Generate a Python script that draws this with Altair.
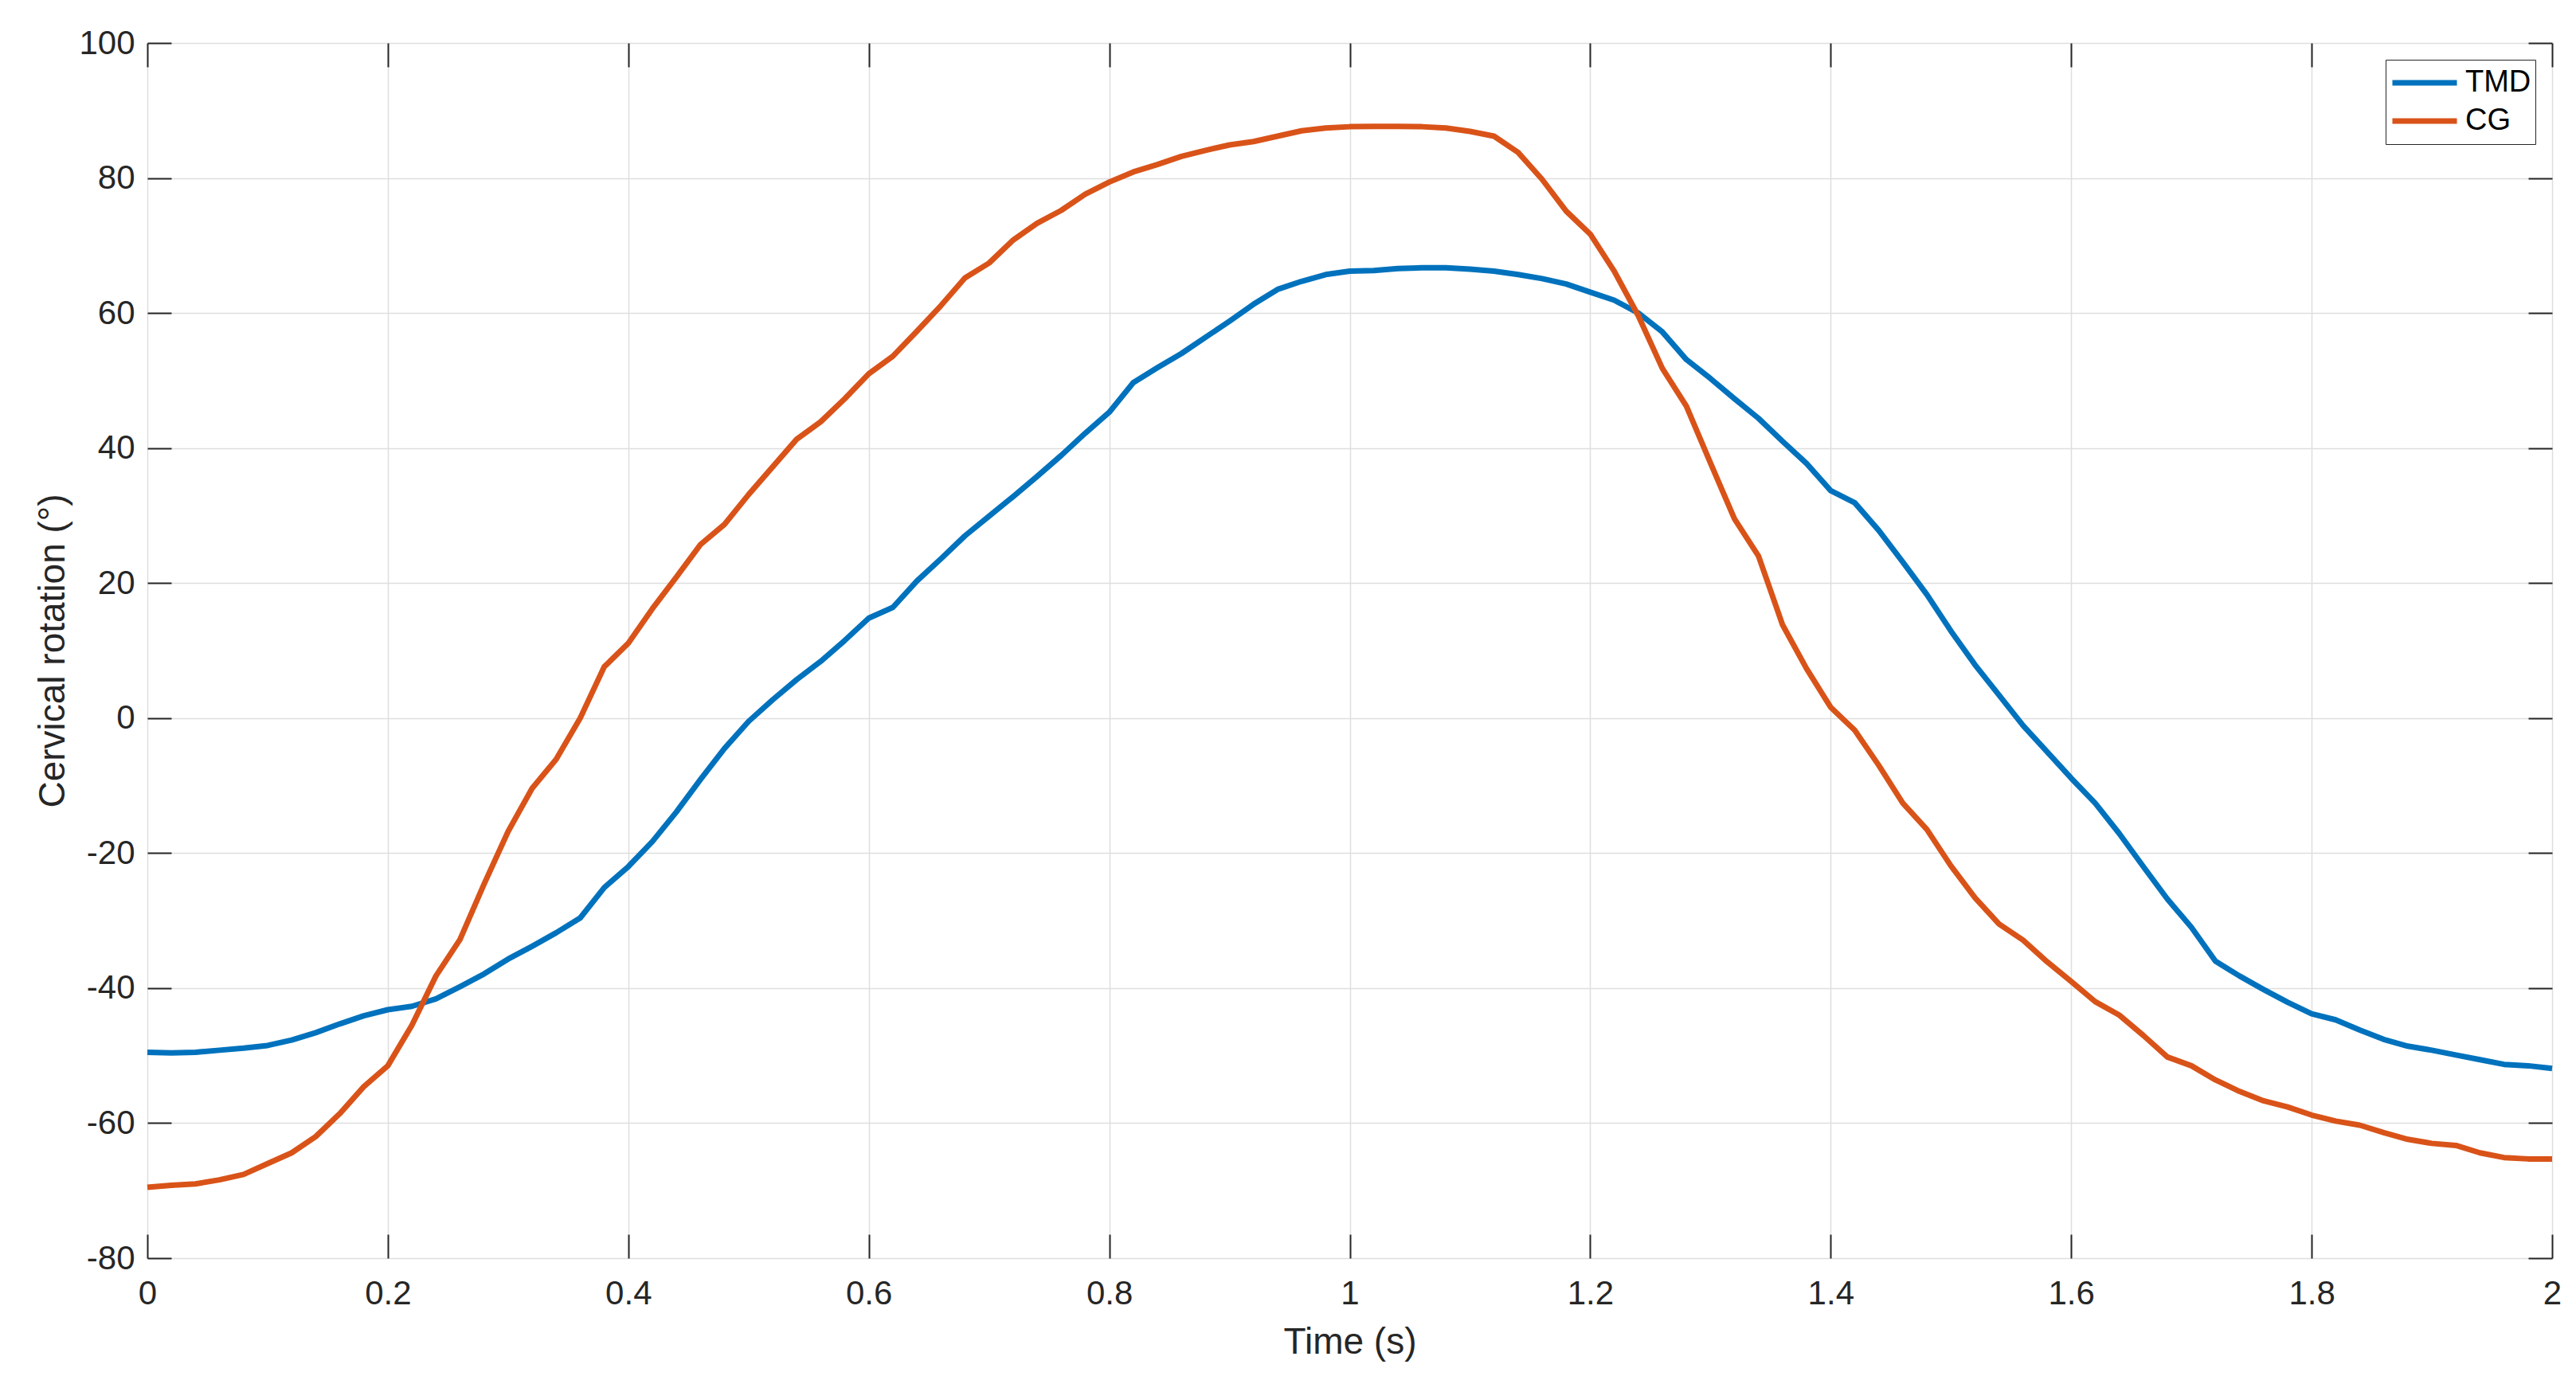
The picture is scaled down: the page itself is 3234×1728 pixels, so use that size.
import altair as alt
import pandas as pd

time_s = [round(i * 0.02, 2) for i in range(101)]

tmd = [-49.5, -49.6, -49.5, -49.2, -48.9, -48.5, -47.7, -46.6, -45.3, -44.1,
       -43.2, -42.7, -41.6, -39.8, -37.9, -35.7, -33.8, -31.8, -29.6, -25.1,
       -22.0, -18.3, -13.9, -9.1, -4.5, -0.5, 2.7, 5.7, 8.4, 11.5,
       14.8, 16.4, 20.3, 23.6, 27.0, 29.9, 32.8, 35.8, 38.9, 42.2,
       45.3, 49.7, 51.9, 54.0, 56.4, 58.8, 61.3, 63.5, 64.7, 65.7,
       66.2, 66.3, 66.6, 66.7, 66.7, 66.5, 66.2, 65.7, 65.1, 64.3,
       63.1, 61.9, 60.0, 57.2, 53.1, 50.3, 47.3, 44.4, 41.0, 37.7,
       33.7, 31.9, 27.8, 23.1, 18.3, 12.9, 7.9, 3.4, -1.1, -5.0,
       -8.9, -12.6, -17.1, -22.0, -26.8, -31.0, -36.0, -38.2, -40.2, -42.1,
       -43.8, -44.7, -46.2, -47.6, -48.6, -49.2, -49.9, -50.6, -51.3, -51.5,
       -51.9]

cg = [-69.5, -69.2, -69.0, -68.4, -67.6, -66.0, -64.4, -62.0, -58.6, -54.6,
      -51.5, -45.5, -38.2, -32.8, -24.6, -16.8, -10.4, -6.1, 0.0, 7.6,
      11.1, 16.2, 20.9, 25.7, 28.7, 33.1, 37.2, 41.3, 43.9, 47.3,
      51.0, 53.6, 57.3, 61.1, 65.2, 67.4, 70.8, 73.3, 75.2, 77.6,
      79.4, 80.9, 82.0, 83.2, 84.1, 84.9, 85.4, 86.2, 87.0, 87.4,
      87.6, 87.65, 87.65, 87.6, 87.4, 86.9, 86.2, 83.8, 79.8, 75.1,
      71.7, 66.2, 59.6, 51.8, 46.2, 37.8, 29.5, 24.0, 13.8, 7.3,
      1.6, -1.8, -7.0, -12.6, -16.5, -21.9, -26.6, -30.5, -32.9, -36.1,
      -39.0, -42.0, -44.0, -47.0, -50.2, -51.5, -53.6, -55.3, -56.7, -57.6,
      -58.8, -59.7, -60.3, -61.4, -62.4, -63.0, -63.3, -64.4, -65.1, -65.3,
      -65.3]

series_names = ["TMD", "CG"]
series_colors = ["#0072BD", "#D95319"]
x_ticks = [0, 0.2, 0.4, 0.6, 0.8, 1, 1.2, 1.4, 1.6, 1.8, 2]
y_ticks = [-80, -60, -40, -20, 0, 20, 40, 60, 80, 100]

df = pd.concat([
    pd.DataFrame({"t": time_s, "v": tmd, "s": "TMD"}),
    pd.DataFrame({"t": time_s, "v": cg, "s": "CG"}),
])

FONT = "Liberation Sans"
TXT = "#262626"

xs = alt.Scale(domain=[0, 2], nice=False, zero=False)
ys = alt.Scale(domain=[-80, 100], nice=False, zero=False)

main = alt.Chart(df).mark_line(strokeWidth=7, strokeJoin="round").encode(
    x=alt.X("t:Q", scale=xs, axis=alt.Axis(
        title="Time (s)", values=x_ticks, orient="bottom", grid=True,
        gridColor="#dedede", gridWidth=1.5, domain=False, ticks=False,
        labelFont=FONT, labelFontSize=42, labelColor=TXT, labelPadding=24,
        labelFlush=False, labelExpr="datum.value + ''",
        titleFont=FONT, titleFontSize=46, titleColor=TXT, titleFontWeight="normal",
        titlePadding=18)),
    y=alt.Y("v:Q", scale=ys, axis=alt.Axis(
        title="Cervical rotation (°)", values=y_ticks, orient="left", grid=True,
        gridColor="#dedede", gridWidth=1.5, domain=False, ticks=False,
        labelFont=FONT, labelFontSize=42, labelColor=TXT, labelPadding=16,
        labelFlush=False, labelExpr="datum.value + ''",
        titleFont=FONT, titleFontSize=46, titleColor=TXT, titleFontWeight="normal",
        titlePadding=8)),
    color=alt.Color("s:N", scale=alt.Scale(domain=series_names, range=series_colors),
                    sort=series_names,
                    legend=alt.Legend(title=None, orient="top-right", offset=21,
                                      symbolType="stroke", symbolSize=6561,
                                      symbolStrokeWidth=7, clipHeight=48,
                                      labelFont=FONT, labelFontSize=38,
                                      labelColor="#000000", labelOffset=7,
                                      padding=5, rowPadding=0,
                                      strokeColor=TXT, fillColor="#ffffff")),
)

def tick_layer(xorient, yorient):
    return alt.Chart(df).mark_line(opacity=0).encode(
        x=alt.X("t:Q", scale=xs, axis=alt.Axis(
            title=None, values=x_ticks, orient=xorient, offset=-30, tickSize=30,
            tickColor=TXT, tickWidth=2, labels=False, domain=False, grid=False)),
        y=alt.Y("v:Q", scale=ys, axis=alt.Axis(
            title=None, values=y_ticks, orient=yorient, offset=-30, tickSize=30,
            tickColor=TXT, tickWidth=2, labels=False, domain=False, grid=False)),
        detail="s:N",
    )

chart = alt.layer(main, tick_layer("bottom", "left"), tick_layer("top", "right")).resolve_axis(
    x="independent", y="independent"
).properties(
    width=3019, height=1526,
    autosize=alt.AutoSizeParams(type="none"),
    padding={"left": 177, "top": 46, "right": 22, "bottom": 140},
).configure_view(
    stroke=TXT, strokeWidth=2.5
).configure(background="#ffffff")

chart.save("out.html", embed_options={"renderer": "svg", "actions": False})
